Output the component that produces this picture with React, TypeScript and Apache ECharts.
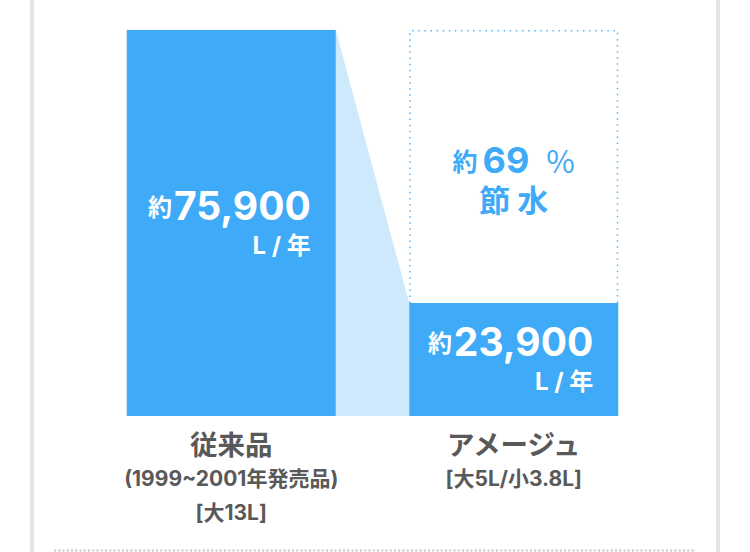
import React, { useEffect, useRef } from "react";
import * as echarts from "echarts";

const categories = ["従来品", "アメージュ"];
const subLabels = [["(1999~2001年発売品)", "[大13L]"], ["[大5L/小3.8L]"]];
const values = [75900, 23900];
const unitLabel = "L / 年";
const approx = "約";
const savingLabel = "節 水";

const Y_MIN = 2400;
const BAR_W = 209;
const BLUE = "#3eaaf8";
const LIGHT = "#cfe9fc";
const GRAY = "#595959";
const FONT = "Inter, 'Noto Sans CJK JP', sans-serif";
const CJK = "'Noto Sans CJK JP', sans-serif";

export default function App() {
  const ref = useRef<HTMLDivElement>(null);
  useEffect(() => {
    if (!ref.current) return;
    const chart = echarts.init(ref.current, undefined, { renderer: "svg" });
    const saving = Math.round((1 - values[1] / values[0]) * 100);
    chart.setOption({
      animation: false,
      textStyle: { fontFamily: FONT },
      grid: { left: 90, right: 95, top: 30, bottom: 136 },
      xAxis: {
        type: "category",
        data: categories,
        axisLine: { show: false },
        axisTick: { show: false },
        axisLabel: {
          margin: 9,
          formatter: (v: string, i: number) =>
            [`{a|${v}}`, ...subLabels[i].map((s) => `{b|${s}}`)].join("\n"),
          rich: {
            a: { fontSize: 27.5, fontWeight: "bold", color: GRAY, lineHeight: 36, fontFamily: CJK },
            b: { fontSize: 21, fontWeight: "bold", color: GRAY, lineHeight: 34, fontFamily: FONT },
          },
        },
      },
      yAxis: { type: "value", min: Y_MIN, max: values[0], show: false },
      graphic: [
        { type: "rect", shape: { x: 30, y: 0, width: 4, height: 552 }, style: { fill: "#e5e5e5" }, silent: true },
        { type: "rect", shape: { x: 716, y: 0, width: 4, height: 552 }, style: { fill: "#e5e5e5" }, silent: true },
        {
          type: "line",
          shape: { x1: 54, y1: 550.5, x2: 696, y2: 550.5 },
          style: { stroke: "#c8c8c8", lineWidth: 2, lineDash: [2, 2.25] },
          silent: true,
        },
      ],
      series: [
        {
          type: "custom",
          z: 1,
          silent: true,
          data: [[0, 0]],
          renderItem: (_p: any, api: any) => {
            const l = api.coord([0, values[0]]);
            const r = api.coord([1, values[1]]);
            const b = api.coord([0, Y_MIN]);
            const hw = BAR_W / 2;
            return {
              type: "polygon",
              shape: {
                points: [
                  [l[0] + hw, l[1]],
                  [r[0] - hw, r[1]],
                  [r[0] - hw, b[1]],
                  [l[0] + hw, b[1]],
                ],
              },
              style: { fill: LIGHT },
            };
          },
        },
        {
          type: "bar",
          z: 2,
          barWidth: BAR_W,
          data: values,
          itemStyle: { color: BLUE },
          label: {
            show: true,
            position: "insideRight",
            distance: 25,
            formatter: (p: any) =>
              `{s|${approx}}{n|${Number(p.value).toLocaleString("en-US")}}\n{u|${unitLabel}}`,
            rich: {
              s: { fontSize: 24, fontWeight: "bold", color: "#fff", align: "right", fontFamily: CJK, padding: [0, 2, 0, 0] },
              n: { fontSize: 39, fontWeight: "bold", color: "#fff", lineHeight: 44, align: "right", fontFamily: FONT },
              u: { fontSize: 24, fontWeight: "bold", color: "#fff", lineHeight: 36, align: "right", fontFamily: FONT },
            },
          },
        },
        {
          type: "custom",
          z: 3,
          silent: true,
          data: [[1, values[1]]],
          renderItem: (_p: any, api: any) => {
            const t = api.coord([1, values[0]]);
            const r = api.coord([1, values[1]]);
            const hw = BAR_W / 2 - 0.75;
            const x0 = r[0] - hw;
            const x1 = r[0] + hw;
            const y0 = t[1] + 0.75;
            const cy = (t[1] + r[1]) / 2;
            return {
              type: "group",
              children: [
                {
                  type: "polyline",
                  shape: { points: [[x0, r[1]], [x0, y0], [x1, y0], [x1, r[1]]] },
                  style: { stroke: "#55b6f8", lineWidth: 1.5, lineDash: [1.5, 4.6], fill: null },
                },
                {
                  type: "text",
                  x: r[0],
                  y: cy - 7,
                  style: {
                    text: `{s|${approx}}{n|${saving}}{p|%}`,
                    align: "center",
                    verticalAlign: "middle",
                    rich: {
                      s: { fontSize: 25, fontWeight: "bold", fill: BLUE, fontFamily: CJK, lineHeight: 32, padding: [0, 5, 0, 0] },
                      n: { fontSize: 36, fontWeight: "bold", fill: BLUE, fontFamily: FONT, lineHeight: 32 },
                      p: { fontSize: 31, fontWeight: "normal", fill: BLUE, fontFamily: CJK, lineHeight: 32, padding: [0, 0, 0, 17] },
                    },
                  },
                },
                {
                  type: "text",
                  x: r[0],
                  y: cy + 32,
                  style: {
                    text: savingLabel,
                    align: "center",
                    verticalAlign: "middle",
                    fontSize: 31,
                    lineHeight: 32,
                    fontWeight: "bold",
                    fill: BLUE,
                    fontFamily: CJK,
                  },
                },
              ],
            };
          },
        },
      ],
    });
    return () => chart.dispose();
  }, []);
  return (
    <div
      ref={ref}
      style={{ position: "absolute", left: 0, top: 0, width: 750, height: 552, background: "#fff" }}
    />
  );
}
